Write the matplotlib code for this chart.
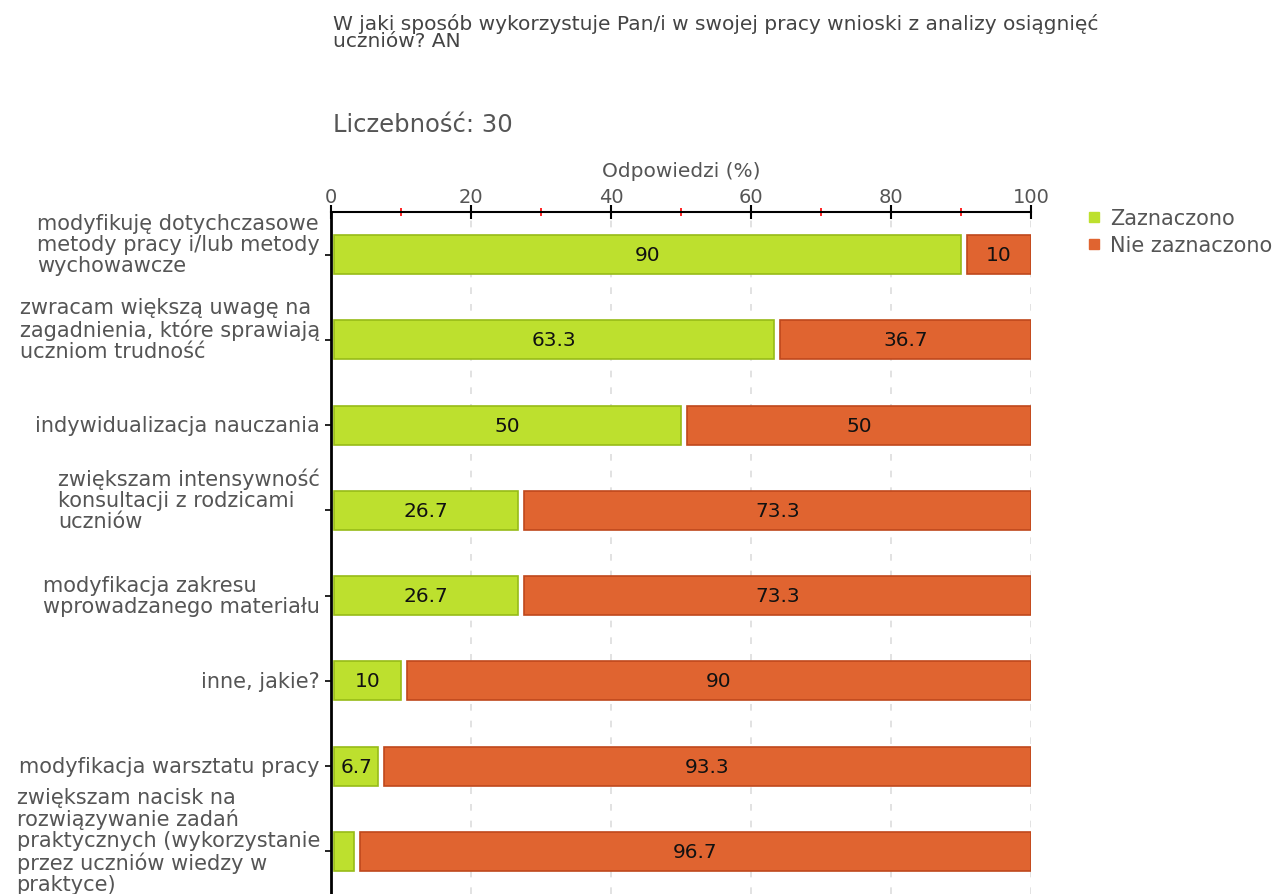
import numpy as np
import matplotlib.pyplot as plt
from matplotlib.ticker import MultipleLocator
from matplotlib.transforms import ScaledTranslation

plt.rcParams['font.family'] = ['DejaVu Sans']

# dane
kategorie = [
    "modyfikuję dotychczasowe\nmetody pracy i/lub metody\nwychowawcze",
    "zwracam większą uwagę na\nzagadnienia, które sprawiają\nuczniom trudność",
    "indywidualizacja nauczania",
    "zwiększam intensywność\nkonsultacji z rodzicami\nuczniów",
    "modyfikacja zakresu\nwprowadzanego materiału",
    "inne, jakie?",
    "modyfikacja warsztatu pracy",
    "zwiększam nacisk na\nrozwiązywanie zadań\npraktycznych (wykorzystanie\nprzez uczniów wiedzy w\npraktyce)",
]
zaznaczono = [90, 63.3, 50, 26.7, 26.7, 10, 6.7, 3.3]
nie_zaznaczono = [10, 36.7, 50, 73.3, 73.3, 90, 93.3, 96.7]
serie = ["Zaznaczono", "Nie zaznaczono"]

zielony, zielony_kr = '#bde02e', '#97bb18'
pomar, pomar_kr = '#e06430', '#bf481c'
szary = '#555555'

fig = plt.figure(figsize=(12.75, 8.95), dpi=100)
ax = fig.add_axes([331/1275, 0, 700/1275, 1 - 213/895])

y = np.arange(len(kategorie))
h = 0.46
odst = 0.85  # przerwa miedzy slupkami
g = np.array(zaznaczono)
o = np.array(nie_zaznaczono)
ax.barh(y, g - 0.5, left=0.5, height=h, color=zielony, edgecolor=zielony_kr, lw=1.2, zorder=3)
ax.barh(y, o - odst, left=g + odst, height=h, color=pomar, edgecolor=pomar_kr, lw=1.2, zorder=3)

for i in range(len(y)):
    if g[i] >= 5:
        ax.text((g[i] + 0.5) / 2, y[i], f"{g[i]:g}", ha='center', va='center', fontsize=14.5, color='#111111', zorder=4)
    ax.text(g[i] + odst + (100 - g[i] - odst) / 2, y[i], f"{o[i]:g}", ha='center', va='center', fontsize=14.5, color='#111111', zorder=4)

ax.set_xlim(0, 100)
ax.set_ylim(7.5, -0.5)

ax.xaxis.tick_top()
ax.xaxis.set_label_position('top')
ax.xaxis.set_major_locator(MultipleLocator(20))
ax.xaxis.set_minor_locator(MultipleLocator(10))
ax.tick_params(axis='x', which='major', direction='inout', length=10, width=1.5, color='black', labelsize=14, labelcolor=szary, pad=-1)
ax.tick_params(axis='x', which='minor', direction='inout', length=6, width=1.2, color='#ff0000')
ax.set_xlabel("Odpowiedzi (%)", fontsize=14.5, color=szary, labelpad=8)

ax.set_yticks(y)
ax.set_yticklabels(kategorie, fontsize=15, color=szary, multialignment='left', linespacing=1.06, va='center')
ax.tick_params(axis='y', direction='out', length=4, width=1.2, color='black', pad=4)
for lab, k in zip(ax.get_yticklabels(), kategorie):
    if k.count('\n') >= 2:
        lab.set_transform(lab.get_transform() + ScaledTranslation(0, 11/100, fig.dpi_scale_trans))

for s in ['right', 'bottom']:
    ax.spines[s].set_visible(False)
ax.spines['top'].set_linewidth(1.5)
ax.spines['left'].set_linewidth(2)

ax.grid(axis='x', which='major', color='#dddddd', linestyle=(0, (4, 6)), lw=1.2, zorder=0)

# legenda
uchwyty = [plt.Line2D([], [], marker='s', ls='', markersize=7, color=zielony),
           plt.Line2D([], [], marker='s', ls='', markersize=7, color=pomar)]
leg = fig.legend(uchwyty, serie, loc='upper left', bbox_to_anchor=(1088/1275, 1 - 209/895), frameon=False,
                 fontsize=15, handlelength=0.6, handletextpad=0.45, labelspacing=0.35, borderaxespad=0,
                 borderpad=0)
for t in leg.get_texts():
    t.set_color(szary)

fig.text(333/1275, 1 - 14/895, "W jaki sposób wykorzystuje Pan/i w swojej pracy wnioski z analizy osiągnięć\nuczniów? AN",
         ha='left', va='top', fontsize=14.5, color='#444444', linespacing=0.86)
fig.text(333/1275, 1 - 125/895, "Liczebność: 30", ha='left', va='center', fontsize=17.5, color=szary)

fig.savefig('out.png', dpi=100)
